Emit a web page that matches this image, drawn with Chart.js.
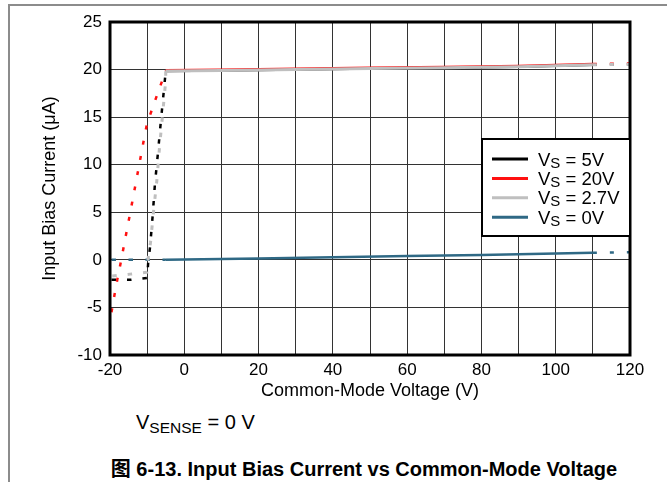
<!DOCTYPE html>
<html>
<head>
<meta charset="utf-8">
<script src="https://cdn.jsdelivr.net/npm/chart.js@4.4.1/dist/chart.umd.min.js"></script>
<style>
body{margin:0;background:#fff;width:667px;height:482px;overflow:hidden;position:relative;font-family:"Liberation Sans",Arial,sans-serif;color:#000;}
#out{position:absolute;left:0;top:0;}
.frameTop{position:absolute;left:8px;top:4px;width:659px;height:2px;background:#8c8c8c;}
.frameLeft{position:absolute;left:8px;top:4px;width:2px;height:478px;background:#8c8c8c;}
#vsense{position:absolute;left:136px;top:411px;font-size:20px;white-space:nowrap;}
#vsense sub{font-size:15.5px;vertical-align:-4px;}
#caption{position:absolute;left:0;width:728px;text-align:center;top:453px;font-weight:bold;font-size:20px;font-family:"Liberation Sans","Noto Sans CJK SC",sans-serif;white-space:nowrap;}
</style>
</head>
<body>
<div class="frameTop"></div>
<div class="frameLeft"></div>
<canvas id="out" width="667" height="410"></canvas>
<div id="vsense">V<sub>SENSE</sub> = 0 V</div>
<div id="caption">图 6-13. Input Bias Current vs Common-Mode Voltage</div>
<script>
// Vs = 5V
const x5V = [-19.6, -14.4, -10, -9.7, -9.2, -8.5, -7.9, -7.1, -6.3, -5.5, -5, 10, 30, 50, 70, 90, 110, 120];
const y5V = [-2.1, -2.1, -1.9, -0.2, 1.4, 4.7, 8.0, 11.2, 14.6, 17.8, 19.85, 19.9, 20.0, 20.1, 20.2, 20.3, 20.5, 20.55];
// Vs = 20V
const x20V = [-19.6, -18.8, -18, -17.2, -14, -10.8, -10, -8.5, -7, -5.5, -5, 10, 30, 50, 70, 90, 110, 120];
const y20V = [-5.5, -3.7, -2.0, -0.45, 6.1, 12.8, 14.4, 16.0, 17.7, 19.3, 19.92, 19.98, 20.08, 20.18, 20.28, 20.38, 20.58, 20.63];
// Vs = 2.7V
const x27V = [-19.4, -14.6, -10.1, -9.7, -9.1, -8.3, -7.4, -6.7, -5.9, -5.1, -5, 10, 30, 50, 70, 90, 110, 120];
const y27V = [-1.7, -1.5, -1.3, 0.25, 1.8, 5.0, 8.3, 11.7, 15.0, 18.4, 19.85, 19.9, 20.0, 20.1, 20.2, 20.3, 20.5, 20.55];
// Vs = 0V
const x0V = [-19.6, -5, 20, 40, 60, 80, 100, 110, 120];
const y0V = [0, 0, 0.15, 0.28, 0.4, 0.52, 0.68, 0.75, 0.8];

const legendNames = ["5V", "20V", "2.7V", "0V"];
const seriesColors = ["#000000", "#ff1010", "#bfbfbf", "#2f6985"];

const dotEnd = -5;     // dotted part up to here
const dashStart = 110; // dashed tail from here

function pts(xs, ys) {
  return xs.map((x, i) => ({x: x, y: ys[i]}));
}

function makeSet(label, xs, ys, color, dots, order, width) {
  return {
    label: label,
    data: pts(xs, ys),
    borderColor: color,
    borderWidth: width,
    pointRadius: 0,
    borderCapStyle: "butt",
    order: order,
    segment: {
      borderDash: ctx => {
        if (ctx.p1.parsed.x <= dotEnd) return dots;
        if (ctx.p0.parsed.x >= dashStart) return [4, 13];
        return undefined;
      }
    }
  };
}

const framePlugin = {
  id: "frame",
  afterDatasetsDraw(chart) {
    const ctx = chart.ctx;
    const a = chart.chartArea;
    ctx.save();
    ctx.strokeStyle = "#000";
    ctx.lineWidth = 3;
    ctx.strokeRect(a.left, a.top, a.right - a.left, a.bottom - a.top);

    // legend box
    const bx = a.right - 148, by = a.top + 117, bw = 148, bh = 97;
    ctx.fillStyle = "#fff";
    ctx.fillRect(bx, by, bw, bh);
    ctx.lineWidth = 2;
    ctx.strokeRect(bx, by, bw, bh);
    for (let i = 0; i < legendNames.length; i++) {
      const ly = by + 20 + i * 19.4;
      ctx.strokeStyle = seriesColors[i];
      ctx.lineWidth = 3;
      ctx.beginPath();
      ctx.moveTo(bx + 10, ly);
      ctx.lineTo(bx + 46, ly);
      ctx.stroke();
      ctx.fillStyle = "#000";
      ctx.textBaseline = "alphabetic";
      let tx = bx + 56;
      const ty = ly + 6.5;
      ctx.font = '18.5px "Liberation Sans", Arial, sans-serif';
      ctx.fillText("V", tx, ty);
      tx += ctx.measureText("V").width;
      ctx.font = '15px "Liberation Sans", Arial, sans-serif';
      ctx.fillText("S", tx, ty + 2);
      tx += ctx.measureText("S").width;
      ctx.font = '18.5px "Liberation Sans", Arial, sans-serif';
      ctx.fillText(" = " + legendNames[i], tx, ty);
    }
    ctx.restore();
  }
};

const canvasCtx = document.getElementById("out").getContext("2d");
new Chart(canvasCtx, {
  type: "line",
  data: {
    datasets: [
      makeSet("Vs = 5V", x5V, y5V, seriesColors[0], [4.5, 11], 2, 2.5),
      makeSet("Vs = 20V", x20V, y20V, seriesColors[1], [4, 11.5], 1, 2.5),
      makeSet("Vs = 2.7V", x27V, y27V, seriesColors[2], [4.5, 11], 0, 3),
      makeSet("Vs = 0V", x0V, y0V, seriesColors[3], [4.5, 12.5], 3, 2.5)
    ]
  },
  options: {
    responsive: false,
    animation: false,
    layout: {padding: {left: 0, top: 22, right: 37, bottom: 0}},
    plugins: {legend: {display: false}, tooltip: {enabled: false}},
    scales: {
      x: {
        type: "linear",
        min: -20,
        max: 120,
        afterFit: s => { s.height = 55; },
        ticks: {
          stepSize: 10,
          color: "#000",
          padding: 5,
          maxRotation: 0,
          autoSkip: false,
          font: {family: "Liberation Sans", size: 17},
          callback: v => (v % 20 === 0 ? String(v) : "")
        },
        grid: {color: "#333", lineWidth: 1, drawTicks: false},
        border: {display: false},
        title: {
          display: true,
          text: "Common-Mode Voltage (V)",
          color: "#000",
          font: {family: "Liberation Sans", size: 18},
          padding: {top: 0, bottom: 8}
        }
      },
      y: {
        min: -10,
        max: 25,
        afterFit: s => { s.width = 110; },
        ticks: {
          stepSize: 5,
          color: "#000",
          padding: 8,
          font: {family: "Liberation Sans", size: 17}
        },
        grid: {color: "#333", lineWidth: 1, drawTicks: false},
        border: {display: false},
        title: {
          display: true,
          text: "Input Bias Current (\u03bcA)",
          color: "#000",
          font: {family: "Liberation Sans", size: 18},
          padding: {top: 39, bottom: 0}
        }
      }
    }
  },
  plugins: [framePlugin]
});
</script>
</body>
</html>
